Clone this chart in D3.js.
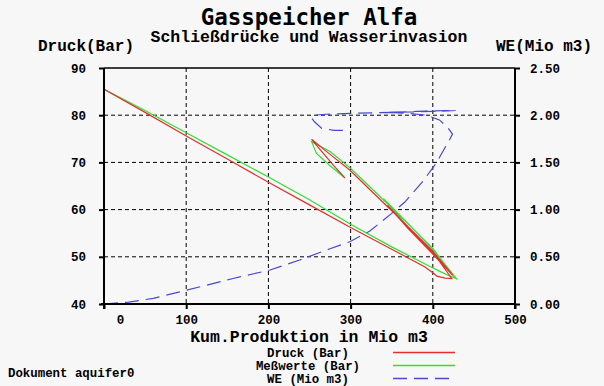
<!DOCTYPE html>
<html>
<head>
<meta charset="utf-8">
<script src="https://cdn.jsdelivr.net/npm/d3@7"></script>
<style>
    html, body { margin: 0; padding: 0; background: #f7f7f7; }
    svg { display: block; }
    .mono { font-family: "Liberation Mono", "Courier New", monospace; font-weight: bold; }
    .title { font-family: "DejaVu Sans Mono", monospace; font-weight: bold; }
    .axis path, .axis line { stroke: #000; }
    .grid line { stroke: #000; stroke-width: 1; stroke-dasharray: 4,3; }
</style>
</head>
<body>
<div id="plot"></div>
<script>
// Druck (Bar) - berechnet
var druckProd = [0, 50, 100, 150, 200, 250, 300, 350, 390, 400, 405, 415, 423,
                 400, 370, 345, 370, 400, 424, 400, 351, 323, 299, 275, 252.5, 265, 280, 293];
var druckBar  = [85.5, 80.6, 75.6, 70.7, 65.8, 61.0, 56.2, 51.6, 47.9, 46.6, 45.9, 45.5, 45.4,
                 51.0, 56.3, 60.9, 56.0, 50.6, 46.1, 51.2, 59.6, 64.3, 68.4, 71.7, 74.9, 72.3, 69.2, 66.7];

// Meßwerte (Bar)
var messProd = [0, 50, 100, 150, 200, 250, 300, 350, 396, 410, 420, 428.7,
                400, 370, 340, 370, 400, 426, 400, 351, 323, 299, 275, 252.5, 258.5, 275, 291];
var messBar  = [85.5, 81.0, 76.3, 71.6, 66.9, 62.1, 56.9, 52.1, 48.0, 46.8, 46.0, 45.4,
                51.6, 57.0, 62.3, 56.3, 50.8, 45.8, 51.8, 60.2, 64.9, 68.9, 72.3, 74.4, 71.9, 69.3, 67.0];

// WE (Mio m3) - Wasserinvasion
var weProd = [0, 30, 60, 100, 157, 202, 238, 275, 299, 323, 350, 366, 388, 404, 421, 424,
              418, 408, 392, 370, 345, 380, 420, 428, 400, 350, 300, 270, 255, 252.5, 256, 265, 280, 293];
var weMio  = [0, 0.02, 0.06, 0.145, 0.27, 0.36, 0.466, 0.585, 0.66, 0.77, 0.96, 1.08, 1.30, 1.49, 1.75, 1.80,
              1.87, 1.95, 2.0, 2.02, 2.03, 2.04, 2.05, 2.05, 2.04, 2.03, 2.02, 2.01, 2.0, 1.97, 1.93, 1.86, 1.84, 1.84];

// Achsen
var xTicks = [0, 100, 200, 300, 400, 500];
var yLeftTicks = [40, 50, 60, 70, 80, 90];
var yRightTicks = [0, 0.5, 1.0, 1.5, 2.0, 2.5];

var legendLabels = ['Druck (Bar)', 'Meßwerte (Bar)', 'WE (Mio m3)'];

var width = 604,
    height = 386,
    pLeft = 104,
    pRight = 515,
    pTop = 68,
    pBottom = 304;

var svg = d3.select('#plot')
    .append('svg')
    .attr('width', width)
    .attr('height', height);

svg.append('rect')
    .attr('width', width)
    .attr('height', height)
    .attr('fill', '#f7f7f7');

var x = d3.scaleLinear().domain([0, 500]).range([pLeft, pRight]);
var yL = d3.scaleLinear().domain([40, 90]).range([pBottom, pTop]);
var yR = d3.scaleLinear().domain([0, 2.5]).range([pBottom, pTop]);

// Gitter
var grid = svg.append('g').classed('grid', true);

grid.selectAll('.h')
    .data(yLeftTicks.filter(function(d) { return d > 40 && d < 90; }))
    .enter()
    .append('line')
    .attr('x1', pLeft).attr('x2', pRight)
    .attr('y1', function(d) { return yL(d); })
    .attr('y2', function(d) { return yL(d); });

grid.selectAll('.v')
    .data(xTicks.filter(function(d) { return d > 0 && d < 500; }))
    .enter()
    .append('line')
    .attr('y1', pTop).attr('y2', pBottom)
    .attr('x1', function(d) { return x(d); })
    .attr('x2', function(d) { return x(d); });

// Rahmen oben
svg.append('line')
    .attr('x1', pLeft).attr('x2', pRight)
    .attr('y1', pTop).attr('y2', pTop)
    .attr('stroke', '#000')
    .attr('stroke-width', 1.5);

// Kurven
var lineDruck = d3.line()
    .x(function(d, i) { return x(druckProd[i]); })
    .y(function(d) { return yL(d); });

var lineMess = d3.line()
    .x(function(d, i) { return x(messProd[i]); })
    .y(function(d) { return yL(d); });

var lineWE = d3.line()
    .x(function(d, i) { return x(weProd[i]); })
    .y(function(d) { return yR(d); });

svg.append('path')
    .attr('d', lineWE(weMio))
    .attr('fill', 'none')
    .attr('stroke', '#4848d0')
    .attr('stroke-width', 1.2)
    .attr('stroke-dasharray', '14,7');

svg.append('path')
    .attr('d', lineMess(messBar))
    .attr('fill', 'none')
    .attr('stroke', '#30e030')
    .attr('stroke-width', 1.2);

svg.append('path')
    .attr('d', lineDruck(druckBar))
    .attr('fill', 'none')
    .attr('stroke', '#e03030')
    .attr('stroke-width', 1.2);

// Achsen
var axisFont = function(g) {
    g.selectAll('text')
        .attr('fill', '#000')
        .attr('class', 'mono')
        .style('font-size', '12.5px');
    g.select('.domain').remove();
};

var gLeft = svg.append('g')
    .classed('axis', true)
    .attr('transform', 'translate(' + pLeft + ',0)')
    .call(d3.axisLeft(yL).tickValues(yLeftTicks).tickSize(5).tickPadding(13).tickFormat(d3.format('d')))
    .call(axisFont);

var gRight = svg.append('g')
    .classed('axis', true)
    .attr('transform', 'translate(' + pRight + ',0)')
    .call(d3.axisRight(yR).tickValues(yRightTicks).tickSize(5).tickPadding(10).tickFormat(d3.format('.2f')))
    .call(axisFont);

var gBottom = svg.append('g')
    .classed('axis', true)
    .attr('transform', 'translate(0,' + pBottom + ')')
    .call(d3.axisBottom(x).tickValues(xTicks).tickSize(5).tickPadding(6).tickFormat(d3.format('d')))
    .call(axisFont);

// "0" sitzt etwas rechts der Achse
gBottom.selectAll('.tick text')
    .filter(function(d) { return d === 0; })
    .attr('x', 16);

gLeft.selectAll('.tick line').attr('stroke-width', 2);
gRight.selectAll('.tick line').attr('stroke-width', 2);
gBottom.selectAll('.tick line').attr('stroke-width', 2);

// Achsenlinien
[[pLeft, pTop, pLeft, pBottom + 5], [pRight, pTop, pRight, pBottom + 5], [pLeft - 3, pBottom, pRight, pBottom]].forEach(function(c) {
    svg.append('line')
        .attr('x1', c[0]).attr('y1', c[1])
        .attr('x2', c[2]).attr('y2', c[3])
        .attr('stroke', '#000')
        .attr('stroke-width', 2);
});

// Texte
svg.append('text')
    .attr('class', 'title')
    .attr('x', 309).attr('y', 25)
    .attr('text-anchor', 'middle')
    .style('font-size', '22.5px')
    .text('Gasspeicher Alfa');

svg.append('text')
    .attr('class', 'mono')
    .attr('x', 309).attr('y', 41.5)
    .attr('text-anchor', 'middle')
    .style('font-size', '16.5px')
    .text('Schließdrücke und Wasserinvasion');

svg.append('text')
    .attr('class', 'mono')
    .attr('x', 38).attr('y', 51)
    .style('font-size', '16px')
    .text('Druck(Bar)');

svg.append('text')
    .attr('class', 'mono')
    .attr('x', 592).attr('y', 51)
    .attr('text-anchor', 'end')
    .style('font-size', '16px')
    .text('WE(Mio m3)');

svg.append('text')
    .attr('class', 'mono')
    .attr('x', 309).attr('y', 342)
    .attr('text-anchor', 'middle')
    .style('font-size', '16.5px')
    .text('Kum.Produktion in Mio m3');

svg.append('text')
    .attr('class', 'mono')
    .attr('x', 8).attr('y', 377)
    .style('font-size', '12.4px')
    .text('Dokument aquifer0');

// Legende
var legendColors = ['#e03030', '#30e030', '#4848d0'];
var legendDash = [null, null, '14,7'];

var legend = svg.append('g')
    .selectAll('g')
    .data(legendLabels)
    .enter()
    .append('g')
    .attr('transform', function(d, i) { return 'translate(0,' + (352.5 + i * 13) + ')'; });

legend.append('text')
    .attr('class', 'mono')
    .attr('x', 308)
    .attr('dy', '0.35em')
    .attr('text-anchor', 'middle')
    .style('font-size', '12.4px')
    .text(function(d) { return d; });

legend.append('line')
    .attr('x1', 393).attr('x2', 455)
    .attr('stroke', function(d, i) { return legendColors[i]; })
    .attr('stroke-width', 1.5)
    .attr('stroke-dasharray', function(d, i) { return legendDash[i]; });
</script>
</body>
</html>
